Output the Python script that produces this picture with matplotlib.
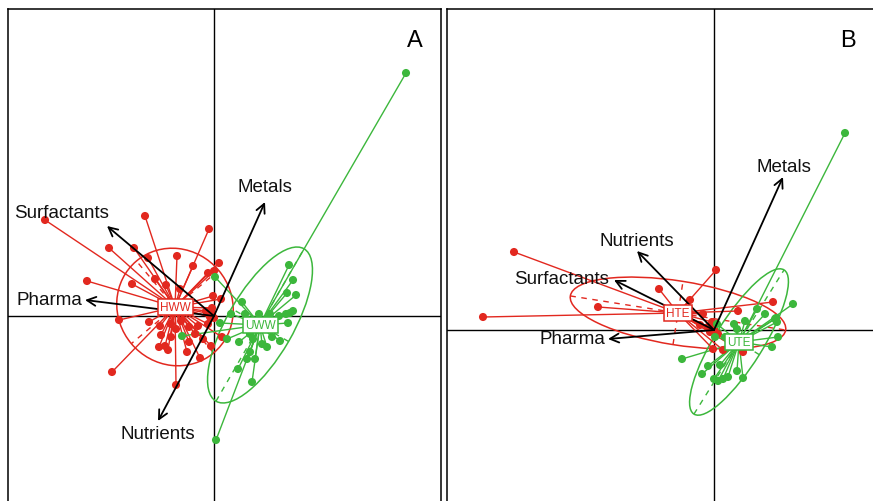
import numpy as np
import matplotlib
matplotlib.use("Agg")
import matplotlib.pyplot as plt
from matplotlib.patches import Ellipse

plt.rcParams['font.family'] = ['Liberation Sans', 'DejaVu Sans']

RED = '#e2281f'
GREEN = '#3cb73c'

# ---- panel A : scores (PC1, PC2) ----
hww_x = [-1.69, -0.69, -0.05, -1.05, -0.80, -1.27, -0.37, -0.21, -0.66, -0.59, -0.48, -0.82,
         0.05, 0.00, -0.06, -0.01, 0.07, -0.02, -0.95, -0.65, -0.54, -0.43, -0.33, -0.25,
         -0.16, -0.06, -0.53, -0.43, -0.49, -0.55, -0.46, -0.25, -0.27, -0.14, -0.03, -1.02,
         -0.38, -0.11, -0.02, -0.04, 0.00, -0.08, -0.34, -0.38, -0.19, 0.08]
hww_y = [0.96, 1.00, 0.87, 0.68, 0.68, 0.35, 0.60, 0.50, 0.58, 0.37, 0.31, 0.32,
         0.53, 0.45, 0.43, 0.20, 0.17, 0.08, -0.04, -0.06, -0.10, -0.08, -0.05, -0.11,
         -0.10, -0.08, -0.19, -0.21, -0.30, -0.31, -0.34, -0.26, -0.36, -0.42, -0.30, -0.56,
         -0.69, -0.23, 0.02, -0.01, -0.02, 0.05, 0.27, -0.13, -0.18, -0.21]
uww_x = [1.92, 0.02, 0.75, 0.79, 0.73, 0.82, 0.28, 0.79, 0.76, 0.17, 0.31, 0.45, 0.56,
         0.65, 0.06, 0.74, 0.13, 0.25, 0.39, 0.53, 0.66, 0.58, 0.36, 0.41, 0.33, 0.24,
         0.38, 0.01, -0.32, 0.46, 0.36, 0.48, 0.72]
uww_y = [2.43, -1.24, 0.51, 0.36, 0.23, 0.21, 0.14, 0.05, 0.03, 0.02, 0.02, 0.02, 0.02,
         0.00, -0.07, -0.07, -0.23, -0.26, -0.23, -0.31, -0.25, -0.21, -0.36, -0.43, -0.43,
         -0.53, -0.66, 0.39, -0.20, -0.13, -0.18, -0.28, 0.02]

# class centres and ellipses (semi-major, semi-minor, angle)
a_classes = ['HWW', 'UWW']
a_centre = [(-0.39, 0.09), (0.46, -0.09)]
a_ellipse = [(0.60, 0.57, 130), (0.88, 0.33, 60)]

a_vars = ['Metals', 'Surfactants', 'Pharma', 'Nutrients']
a_tip_x = [0.51, -1.07, -1.29, -0.56]
a_tip_y = [1.14, 0.90, 0.16, -1.05]
a_lab_x = [0.51, -1.52, -1.65, -0.56]
a_lab_y = [1.29, 1.03, 0.16, -1.18]

# ---- panel B ----
hte_x = [-2.00, -2.31, -1.16, -0.55, -0.24, 0.02, 0.24, 0.59, -0.11, -0.01, 0.29, 0.09,
         -0.02, 0.00, -0.06, 0.04, -0.04, -0.14]
hte_y = [0.78, 0.13, 0.23, 0.41, 0.30, 0.60, 0.19, 0.28, 0.16, -0.19, -0.22, -0.20,
         0.08, 0.01, 0.03, -0.04, -0.02, 0.05]
ute_x = [1.31, 0.79, 0.62, 0.43, 0.64, 0.58, 0.20, 0.23, 0.03, 0.01, -0.32, -0.06, -0.12,
         0.06, 0.23, 0.29, 0.00, 0.04, 0.09, 0.14, 0.63, 0.61, 0.51, 0.31, 0.11]
ute_y = [1.97, 0.26, 0.12, 0.21, -0.07, -0.17, 0.06, 0.01, 0.06, -0.07, -0.29, -0.36, -0.44,
         -0.35, -0.41, -0.48, -0.49, -0.51, -0.49, -0.47, 0.08, 0.11, 0.16, 0.09, -0.07]

b_classes = ['HTE', 'UTE']
b_centre = [(-0.36, 0.17), (0.25, -0.12)]
b_ellipse = [(1.09, 0.32, -9), (0.85, 0.24, 58)]

b_vars = ['Metals', 'Nutrients', 'Surfactants', 'Pharma']
b_tip_x = [0.69, -0.77, -1.00, -1.06]
b_tip_y = [1.53, 0.79, 0.50, -0.09]
b_lab_x = [0.70, -0.77, -1.52, -1.42]
b_lab_y = [1.64, 0.90, 0.51, -0.09]


def draw_class(ax, xs, ys, centre, ell, col, name):
    cx, cy = centre
    a, b, ang = ell
    t = np.radians(ang)
    ax.add_patch(Ellipse((cx, cy), 2 * a, 2 * b, angle=ang, fill=False,
                         ec=col, lw=1.1, zorder=2))
    # dashed ellipse axes
    ax.plot([cx - a * np.cos(t), cx + a * np.cos(t)], [cy - a * np.sin(t), cy + a * np.sin(t)],
            color=col, lw=1.0, ls=(0, (4, 4)), zorder=2)
    ax.plot([cx + b * np.sin(t), cx - b * np.sin(t)], [cy - b * np.cos(t), cy + b * np.cos(t)],
            color=col, lw=1.0, ls=(0, (4, 4)), zorder=2)
    for x, y in zip(xs, ys):
        ax.plot([cx, x], [cy, y], color=col, lw=1.0, zorder=3)
    ax.scatter(xs, ys, s=34, color=col, edgecolors='none', zorder=4)
    return (cx, cy, name, col)


def draw_arrows(ax, tx, ty, lx, ly, names):
    for x, y, a, b, n in zip(tx, ty, lx, ly, names):
        ax.annotate('', xy=(x, y), xytext=(0, 0),
                    arrowprops=dict(arrowstyle='->', color='black', lw=1.3,
                                    mutation_scale=16, shrinkA=0, shrinkB=0),
                    zorder=6)
        ax.text(a, b, n, fontsize=13.5, ha='center', va='center', color='#111111', zorder=7)


def draw_labels(ax, labs):
    for cx, cy, name, col in labs:
        ax.text(cx, cy, name, fontsize=8.5, color=col, ha='center', va='center', zorder=8,
                bbox=dict(boxstyle='square,pad=0.18', fc='white', ec=col, lw=1.1))


fig = plt.figure(figsize=(8.73, 5.02), dpi=100)
W, H = 873.0, 502.0

axA = fig.add_axes([8 / W, 1 - 530 / H, 433 / W, 520 / H])
axA.set_xlim(-2.06, 2.27)
axA.set_ylim(-2.13, 3.07)
axB = fig.add_axes([447 / W, 1 - 530 / H, 433 / W, 520 / H])
axB.set_xlim(-2.67, 1.66)
axB.set_ylim(-1.99, 3.21)

for ax in (axA, axB):
    ax.set_xticks([])
    ax.set_yticks([])
    for s in ax.spines.values():
        s.set_linewidth(1.1)
    ax.axhline(0, color='black', lw=1.0, zorder=1)
    ax.axvline(0, color='black', lw=1.0, zorder=1)

labs = [draw_class(axA, hww_x, hww_y, a_centre[0], a_ellipse[0], RED, a_classes[0]),
        draw_class(axA, uww_x, uww_y, a_centre[1], a_ellipse[1], GREEN, a_classes[1])]
draw_arrows(axA, a_tip_x, a_tip_y, a_lab_x, a_lab_y, a_vars)
draw_labels(axA, labs)

labs = [draw_class(axB, hte_x, hte_y, b_centre[0], b_ellipse[0], RED, b_classes[0]),
        draw_class(axB, ute_x, ute_y, b_centre[1], b_ellipse[1], GREEN, b_classes[1])]
draw_arrows(axB, b_tip_x, b_tip_y, b_lab_x, b_lab_y, b_vars)
draw_labels(axB, labs)

axA.text(0.94, 0.94, 'A', transform=axA.transAxes, fontsize=17, ha='center', va='center')
axB.text(0.925, 0.94, 'B', transform=axB.transAxes, fontsize=17, ha='center', va='center')

fig.savefig('out.png', dpi=100)
